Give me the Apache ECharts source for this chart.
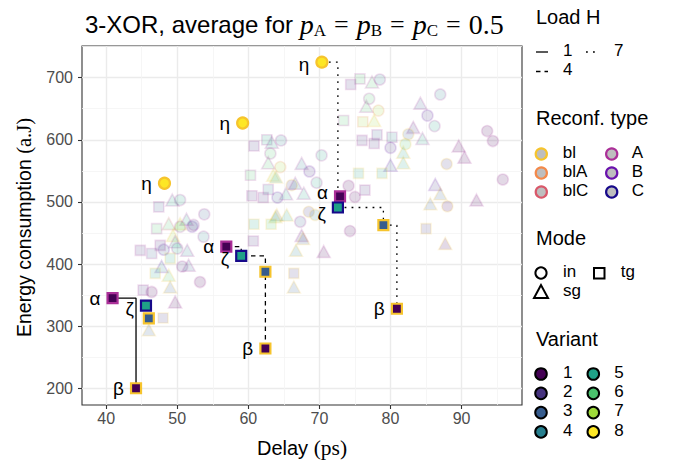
<!DOCTYPE html>
<html><head><meta charset="utf-8">
<script src="https://cdn.jsdelivr.net/npm/echarts@6/dist/echarts.min.js"></script>
<style>html,body{margin:0;padding:0;background:#fff}#c{width:673px;height:465px}</style>
</head><body><div id="c"></div><script>
// ---- axis ticks ----
const xTicks = [40, 50, 60, 70, 80, 90];
const xMinor = [45, 55, 65, 75, 85, 95];
const yTicks = [200, 300, 400, 500, 600, 700];
const yMinor = [250, 350, 450, 550, 650, 750];
const xRange = [36.6, 98.5];
const yRange = [173, 751];

// ---- background (faded) points ----
const bgX = [74.4,75.7,77.4,78.5,77.0,76.6,78.3,77.7,73.4,76.1,84.2,87.0,85.2,86.2,83.2,84.5,78.1,76.0,77.7,80.2,82.5,82.1,80.0,81.8,80.0,81.8,93.6,94.4,89.6,90.4,87.9,95.8,92.1,86.3,87.0,85.6,88.0,75.5,78.8,76.4,74.1,75.0,70.3,68.6,69.6,67.5,66.6,67.8,66.1,
  60.8,62.6,63.3,64.6,63.1,62.8,64.5,60.3,63.5,60.5,62.1,62.8,64.1,65.3,47.4,49.3,50.4,53.8,
  47.1,48.8,52.1,50.4,49.4,49.7,44.8,46.4,48.1,51.4,50.0,49.0,47.8,50.7,51.6,53.2,46.9,48.8,45.2,46.4,49.0,49.7,48.0,46.0,
  60.7,60.8,64.0,65.4,47.6,52.3,53.7,51.3,50.4,66.4,66.4,
  63.9,63.8,63.2,68.5,69.4,67.3,67.5,67.7,66.7,70.6,74.3,85.0,87.7];
const bgY = [689,698,693,697,666,654,647,631,631,629,659,673,639,622,620,602,608,599,594,604,609,593,587,580,559,563,614,598,590,572,561,536,503,528,513,497,493,546,546,519,526,508,575,549,531,562,530,514,527,
  590,600,596,599,578,563,556,543,543,510,507,520,507,513,492,503,503,480,
  457,465,460,465,446,436,422,417,423,422,425,409,396,396,398,371,385,382,358,355,363,339,313,294,
  437,464,479,479,430,463,444,472,460,385,363,
  540,476,464,484,479,468,446,441,422,420,453,457,433];
const bgMode = ['tg','tg','sg','in','in','sg','in','sg','tg','tg','sg','in','in','in','sg','sg','tg','tg','tg','tg','in','in','in','sg','sg','sg','in','in','sg','sg','in','in','sg','sg','sg','sg','in','tg','tg','tg','in','in','in','in','in','sg','sg','sg','in',
  'tg','tg','sg','in','in','sg','in','tg','sg','tg','tg','tg','in','sg','tg','sg','in','in',
  'tg','sg','in','sg','sg','sg','tg','tg','in','sg','in','tg','sg','in','sg','in','tg','sg','tg','in','sg','sg','tg','sg',
  'tg','tg','sg','sg','tg','in','in','sg','in','tg','sg',
  'sg','sg','tg','in','in','in','sg','sg','sg','sg','in','tg','sg'];
const bgVariant = [2,6,6,4,6,6,7,7,6,7,3,4,2,5,2,5,3,2,2,4,3,6,2,5,3,5,1,1,1,1,2,1,1,2,3,3,1,5,5,2,1,1,5,2,5,4,4,5,2,
  2,5,5,4,6,6,7,6,7,2,2,4,3,5,3,5,5,3,
  6,6,2,7,7,5,2,3,3,4,5,5,4,2,3,1,5,6,2,1,3,1,2,3,
  2,5,3,5,2,3,4,5,6,2,3,
  5,6,6,2,4,3,2,3,4,1,1,2,1];
const bgReconf = ['A','A','A','A','A','A','blA','bl','A','blA','A','A','B','A','A','A','A','A','A','A','bl','bl','B','bl','B','bl','A','A','A','A','bl','A','A','B','bl','bl','bl','bl','bl','A','A','A','A','B','A','A','A','A','bl',
  'A','A','A','A','A','A','blA','A','bl','A','A','A','B','A','A','A','A','A',
  'A','blC','B','bl','bl','A','A','A','B','A','A','bl','B','A','A','A','bl','bl','A','A','bl','A','bl','bl',
  'A','bl','bl','bl','A','A','A','A','A','bl','bl',
  'bl','bl','bl','bl','bl','A','A','bl','bl','A','A','bl','bl'];

// ---- highlighted points ----
const fgX = [40.9, 45.6, 46.0, 44.2, 48.2, 56.9, 59.0, 62.4, 62.4, 59.2, 70.35, 72.9, 72.6, 79.0, 80.9];
const fgY = [345, 333, 312.5, 200, 530, 428, 413, 387.5, 264, 627, 725, 509, 491, 462.5, 328];
const fgMode = ['tg','tg','tg','tg','in','tg','tg','tg','tg','in','in','tg','tg','tg','tg'];
const fgVariant = [1,5,3,1,8, 1,5,3,1,8, 8,1,5,3,1];
const fgReconf = ['A','C','bl','bl','bl','A','C','bl','bl','bl','bl','A','C','bl','bl'];
const fgLabel = ['α','ζ','','β','η','α','ζ','','β','η','η','α','ζ','','β'];
const fgLoad = ['1','1','1','1','1','4','4','4','4','4','7','7','7','7','7'];

// ---- legend entries ----
const loadLevels = ['1','4','7'];
const reconfTypes = ['bl','blA','blC','A','B','C'];
const modes = ['in','tg','sg'];
const variants = ['1','2','3','4','5','6','7','8'];

// ---- styles / layout ----
const labelShift = [[0,0],[0,3],[0,0],[0,0],[0,0],[0,0],[0,3],[0,0],[0,0],[0,0],[0,2],[0,-4],[0,6],[0,0],[0,0]];
const variantColor = {1:'#440154',2:'#46337E',3:'#365C8D',4:'#277F8E',5:'#1FA187',6:'#4AC16D',7:'#9FDA3A',8:'#FDE725'};
const reconfColor = {bl:'#F6C42D', blA:'#F3894A', blC:'#D9586A', A:'#AB2F98', B:'#6A12AD', C:'#17098A'};
const modeSymbol = {in:'circle', tg:'rect', sg:'triangle'};
const loadDash = {'1':'solid','4':[4.5,4],'7':[1.8,5.2]};
const SANS = 'Liberation Sans';
const SERIF = 'Liberation Serif';

function bgSize(m){ return m==='in'?11:(m==='tg'?10:[13,12]); }

const bgData = bgX.map((x,i)=>({
  value:[x,bgY[i]],
  symbol: modeSymbol[bgMode[i]],
  symbolSize: bgSize(bgMode[i]),
  itemStyle:{color:variantColor[bgVariant[i]], borderColor:reconfColor[bgReconf[i]], borderWidth:1.6, opacity:0.15}
}));

const fgData = fgX.map((x,i)=>({
  value:[x,fgY[i]],
  name: fgLabel[i],
  symbol: modeSymbol[fgMode[i]],
  symbolSize: fgMode[i]==='in'?11:10,
  itemStyle:{color:variantColor[fgVariant[i]], borderColor:reconfColor[fgReconf[i]], borderWidth:2.2, opacity:1},
  label:{show: fgLabel[i]!=='', offset: labelShift[i]}
}));

// Pareto front (step lines) per load level
function front(load){
  const idx = fgX.map((x,i)=>i).filter(i=>fgLoad[i]===load).sort((a,b)=>fgX[a]-fgX[b] || fgY[b]-fgY[a]);
  const out=[]; let best=Infinity;
  idx.forEach(i=>{ if(fgY[i]<best){ best=fgY[i]; out.push([fgX[i],fgY[i]]); } });
  return out;
}
const lineSeries = loadLevels.map(l=>({
  type:'line', xAxisIndex:0, yAxisIndex:0, data: front(l), step:'end', symbol:'none', silent:true,
  lineStyle:{color:'#000', width:1.3, type: loadDash[l]}, z:3, animation:false
}));

// ---- legend graphics ----
const G = [];
function txt(x,y,s,size){ G.push({type:'text', left:x, top:y-size*0.6, style:{text:s, font:`${size}px "${SANS}"`, fill:'#000'}}); }
txt(536,19,'Load H',20);
[['1',536,52,563],['4',536,71.5,563],['7',586,52,614]].forEach(([l,x,y,tx])=>{
  G.push({type:'line', shape:{x1:x,y1:y,x2:x+12,y2:y}, style:{stroke:'#000', lineWidth:1.3, lineDash: loadDash[l]==='solid'?null:loadDash[l]}});
  txt(tx,y,l,17);
});
txt(536,120,'Reconf. type',20);
reconfTypes.forEach((r,i)=>{
  const col=Math.floor(i/3), row=i%3, y=154+row*19;
  const cx = col? 611.7:541.3, tx = col? 631.7:562.7;
  G.push({type:'circle', shape:{cx:cx, cy:y, r:5.6}, style:{fill:'#BEBEBE', stroke:reconfColor[r], lineWidth:2.2}});
  txt(tx,y,r,17);
});
txt(536,240,'Mode',20);
G.push({type:'circle', shape:{cx:541, cy:273, r:5.6}, style:{fill:'none', stroke:'#000', lineWidth:2}});
txt(563,273,modes[0],17);
G.push({type:'rect', shape:{x:594, y:268, width:10.5, height:10.5}, style:{fill:'none', stroke:'#000', lineWidth:2}});
txt(620.7,273,modes[1],17);
G.push({type:'polygon', shape:{points:[[541,285],[534,298],[548,298]]}, style:{fill:'none', stroke:'#000', lineWidth:2}});
txt(563,292,modes[2],17);
txt(536,341,'Variant',20);
variants.forEach((v,i)=>{
  const col=Math.floor(i/4), row=i%4, y=374+row*19.3;
  const cx = col? 593.3:541, tx = col? 614.3:563;
  G.push({type:'circle', shape:{cx:cx, cy:y, r:5.8}, style:{fill:variantColor[v], stroke:'#000', lineWidth:2}});
  txt(tx,y,v,17);
});

const axisLabelStyle = {color:'#4D4D4D', fontSize:16, fontFamily:SANS};
const chart = echarts.init(document.getElementById('c'), null, {renderer:'svg'});
chart.setOption({
  animation:false,
  backgroundColor:'#fff',
  title:{
    left:80, top:4,
    text:'{a|3-XOR, average for }{m|p}{s|A}{e|=}{m|p}{s|B}{e|=}{m|p}{s|C}{e|=}{n|0.5}',
    textStyle:{fontWeight:'normal', rich:{
      a:{fontFamily:SANS, fontSize:24, fontWeight:'normal', color:'#000', lineHeight:30},
      m:{fontFamily:SERIF, fontStyle:'italic', fontWeight:'normal', fontSize:28, color:'#000', lineHeight:30},
      s:{fontFamily:SERIF, fontWeight:'normal', fontSize:17, color:'#000', lineHeight:17, padding:[13,0,0,0]},
      e:{fontFamily:SERIF, fontWeight:'normal', fontSize:26, color:'#000', lineHeight:30, padding:[0,8,0,8]},
      n:{fontFamily:SERIF, fontWeight:'normal', fontSize:28, color:'#000', lineHeight:30}
    }}
  },
  grid:{left:82, right:151, top:46, bottom:60, show:true, borderColor:'#333', borderWidth:1.1, backgroundColor:'#fff'},
  xAxis:[
    {type:'value', min:xRange[0], max:xRange[1], position:'bottom',
     name:'{a|Delay }{b|(ps)}', nameLocation:'middle', nameGap:32,
     nameTextStyle:{rich:{a:{fontFamily:SANS, fontSize:20, color:'#000'}, b:{fontFamily:SERIF, fontSize:21.5, color:'#000'}}},
     axisLine:{show:false},
     axisTick:{show:true, customValues:xTicks, length:4, lineStyle:{color:'#333', width:1.1}},
     axisLabel:Object.assign({customValues:xTicks, margin:5}, axisLabelStyle),
     splitLine:{show:true, lineStyle:{color:'#EBEBEB', width:1.4}}},
    {type:'value', min:xRange[0], max:xRange[1], position:'bottom',
     axisLine:{show:false}, axisTick:{show:false, customValues:xMinor}, axisLabel:{show:false, customValues:xMinor},
     splitLine:{show:true, lineStyle:{color:'#F4F4F4', width:0.8}}}
  ],
  yAxis:[
    {type:'value', min:yRange[0], max:yRange[1], position:'left',
     name:'{a|Energy consumption }{b|(a.J)}', nameLocation:'middle', nameGap:48, nameRotate:90,
     nameTextStyle:{padding:[0,4,0,0], rich:{a:{fontFamily:SANS, fontSize:19.5, color:'#000'}, b:{fontFamily:SERIF, fontSize:20.5, color:'#000'}}},
     axisLine:{show:false},
     axisTick:{show:true, customValues:yTicks, length:4, lineStyle:{color:'#333', width:1.1}},
     axisLabel:Object.assign({customValues:yTicks, margin:9}, axisLabelStyle),
     splitLine:{show:true, lineStyle:{color:'#EBEBEB', width:1.4}}},
    {type:'value', min:yRange[0], max:yRange[1], position:'left',
     axisLine:{show:false}, axisTick:{show:false, customValues:yMinor}, axisLabel:{show:false, customValues:yMinor},
     splitLine:{show:true, lineStyle:{color:'#F4F4F4', width:0.8}}}
  ],
  series:[
    {type:'scatter', xAxisIndex:0, yAxisIndex:0, data:bgData, z:2, silent:true},
    ...lineSeries,
    {type:'scatter', xAxisIndex:0, yAxisIndex:0, data:fgData, z:4, silent:true,
     label:{position:'left', distance:6, formatter:'{b}', fontFamily:SANS, fontSize:19, color:'#000'}}
  ],
  graphic: G
});
</script></body></html>
